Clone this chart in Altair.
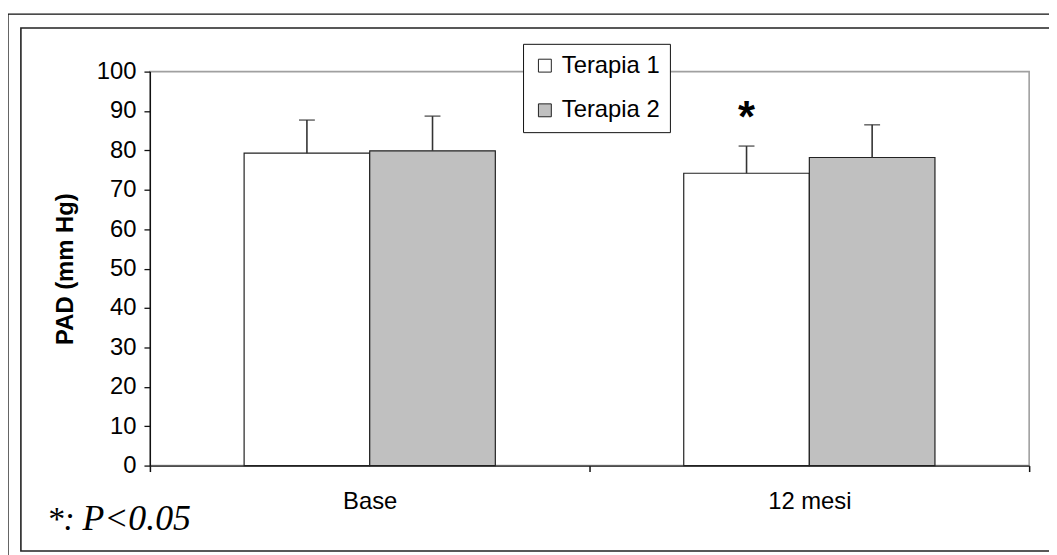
import altair as alt
import pandas as pd

categories = ["Base", "12 mesi"]
series = ["Terapia 1", "Terapia 2"]
terapia1_mean = [79.3, 74.2]
terapia2_mean = [79.9, 78.2]
terapia1_sd = [8.4, 6.9]
terapia2_sd = [8.8, 8.3]
terapia1_sig = ["", "*"]
terapia2_sig = ["", ""]
y_ticks = [0, 10, 20, 30, 40, 50, 60, 70, 80, 90, 100]
note_star = "*:"
note_p = "P<0.05"

rows = []
for i, c in enumerate(categories):
    rows.append(dict(cat=c, serie=series[0], mean=terapia1_mean[i],
                     upper=terapia1_mean[i] + terapia1_sd[i], sig=terapia1_sig[i]))
    rows.append(dict(cat=c, serie=series[1], mean=terapia2_mean[i],
                     upper=terapia2_mean[i] + terapia2_sd[i], sig=terapia2_sig[i]))
df = pd.DataFrame(rows)
one = pd.DataFrame({"k": [0]})

W, H = 886, 397
FONT = "Liberation Sans"

x_axis = alt.Axis(title=None, labelAngle=0, tickBand="extent",
                  domainColor="#222", domainWidth=1.3,
                  tickColor="#111", tickWidth=1.5, tickSize=6,
                  labelFont=FONT, labelFontSize=24, labelColor="black",
                  labelPadding=18, grid=False)
y_axis = alt.Axis(values=y_ticks, grid=False, title="PAD (mm Hg)",
                  labelOverlap=False, tickCount=len(y_ticks) + 10,
                  domainColor="#111", domainWidth=1.3,
                  tickColor="#111", tickWidth=1.3, tickSize=6,
                  labelFont=FONT, labelFontSize=24, labelColor="black",
                  labelPadding=8,
                  titleFont=FONT, titleFontSize=24, titleFontWeight="bold",
                  titleColor="black", titleAngle=-90, titleX=-78, titleY=H / 2,
                  titleAlign="center", titleBaseline="alphabetic")

x_scale = alt.Scale(paddingInner=0, paddingOuter=0)
xo_scale = alt.Scale(paddingOuter=0.75, paddingInner=0)
y_scale = alt.Scale(domain=[0, 100], nice=False, zero=True)


def xenc():
    return alt.X("cat:N", sort=categories, scale=x_scale, axis=x_axis)


def xoenc():
    return alt.XOffset("serie:N", sort=series, scale=xo_scale)


bars = alt.Chart(df).mark_bar(stroke="#222", strokeWidth=1.2).encode(
    x=xenc(),
    xOffset=xoenc(),
    y=alt.Y("mean:Q", scale=y_scale, axis=y_axis),
    fill=alt.Fill("serie:N", sort=series,
                  scale=alt.Scale(domain=series, range=["#ffffff", "#c0c0c0"]),
                  legend=alt.Legend(title=None, orient="none", legendX=376, legendY=-28,
                                    fillColor="white", strokeColor="#111",
                                    padding=10, symbolType="square", symbolSize=169,
                                    symbolStrokeColor="#222", symbolStrokeWidth=1,
                                    labelFont=FONT, labelFontSize=24, labelColor="black",
                                    labelOffset=5, rowPadding=21)),
)

err = alt.Chart(df).mark_rule(color="#333", strokeWidth=1.6).encode(
    x=xenc(), xOffset=xoenc(),
    y=alt.Y("mean:Q", scale=y_scale, axis=y_axis), y2="upper:Q")

caps = alt.Chart(df).mark_tick(color="#333", thickness=1.6, size=16).encode(
    x=xenc(), xOffset=xoenc(),
    y=alt.Y("upper:Q", scale=y_scale, axis=y_axis))

stars = alt.Chart(df).mark_text(font=FONT, fontSize=44, fontWeight="bold",
                                baseline="alphabetic", dy=-14, color="black").encode(
    x=xenc(), xOffset=xoenc(),
    y=alt.Y("upper:Q", scale=y_scale, axis=y_axis), text="sig:N")

outer = alt.Chart(one).mark_rect(fill="white", fillOpacity=0, stroke="#111",
                                 strokeWidth=1.3).encode(
    x=alt.value(-143), x2=alt.value(1000), y=alt.value(-58), y2=alt.value(520))
inner = alt.Chart(one).mark_rect(fill="white", fillOpacity=0, stroke="#222",
                                 strokeWidth=1.6).encode(
    x=alt.value(-130), x2=alt.value(990), y=alt.value(-44), y2=alt.value(483))

note1 = alt.Chart(one).mark_text(font="Liberation Serif", fontSize=34, fontStyle="italic",
                                 align="left", baseline="alphabetic", color="black").encode(
    x=alt.value(-104), y=alt.value(462), text=alt.value(note_star))
note2 = alt.Chart(one).mark_text(font="Liberation Serif", fontSize=36, fontStyle="italic",
                                 align="left", baseline="alphabetic", color="black").encode(
    x=alt.value(-68), y=alt.value(462), text=alt.value(note_p))

chart = alt.layer(outer, inner, bars, err, caps, stars, note1, note2).properties(
    width=W, height=H,
    autosize=alt.AutoSizeParams(type="none"),
    padding={"left": 143, "top": 62, "right": 20, "bottom": 88},
    background="white",
).configure_view(stroke="#a0a0a0", strokeWidth=1.6)

chart.save("out.html", embed_options={"renderer": "svg", "actions": False})
